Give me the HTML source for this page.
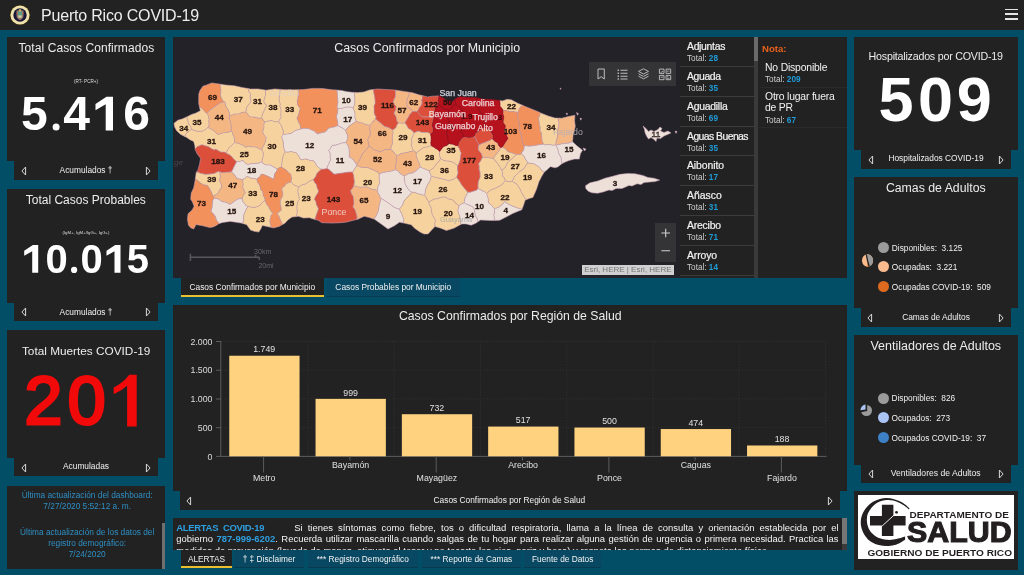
<!DOCTYPE html>
<html><head><meta charset="utf-8"><title>Puerto Rico COVID-19</title>
<style>
*{margin:0;padding:0;box-sizing:border-box}
html,body{width:1024px;height:575px;overflow:hidden}
body{background:#014e66;font-family:"Liberation Sans",sans-serif;color:#e8e8e8;position:relative}
.abs{position:absolute}
.p{position:absolute;background:#222222}
.t{height:20px;line-height:20px;text-align:center;white-space:nowrap}
.ttl{font-size:12px;color:#ececec}
.tab{font-size:8.35px;color:#f0f0f0}
.big{font-weight:bold;color:#fff}
.leg{position:absolute;font-size:8.3px;color:#f0f0f0;white-space:nowrap;height:12px;line-height:12px}
.dot{position:absolute;width:11px;height:11px;border-radius:50%}
.li{position:absolute;left:680px;width:74px;height:29.8px;border-bottom:1px solid #3c3c3c}
.li b{position:absolute;left:7px;top:4px;font-weight:normal;-webkit-text-stroke:.2px #f2f2f2;font-size:10.4px;line-height:12px;color:#f2f2f2;white-space:nowrap}
.li i{position:absolute;left:7px;top:16.1px;font-style:normal;font-size:8.2px;line-height:11px;color:#cfcfcf;white-space:nowrap}
.li i u,.nt u{text-decoration:none;color:#1f9bd8;font-weight:bold}
.nt{position:absolute;white-space:nowrap}
.bl{position:absolute;font-size:8.8px;color:#e0e0e0;white-space:nowrap;height:12px;line-height:12px;text-align:center;width:60px}
.upd{position:absolute;left:9.7px;width:155px;text-align:center;font-size:8.3px;line-height:11px;color:#2f8fc4;white-space:nowrap}
.btab{position:absolute;top:550px;height:18px;line-height:19px;font-size:8.3px;color:#f2f2f2;text-align:center;background:#094862;white-space:nowrap;border-bottom:1px solid #083a50}
</style></head><body><div id="root" style="position:absolute;left:0;top:0;width:1024px;height:575px;will-change:transform;overflow:hidden">

<div class="abs" style="left:0;top:0;width:1024px;height:30px;background:#222222"></div>
<svg class="abs" style="left:9px;top:4px" width="22" height="22" viewBox="0 0 22 22">
<circle cx="11" cy="11" r="10.3" fill="#3a2f12"/><circle cx="11" cy="11" r="9.6" fill="#f0e2ad"/><circle cx="11" cy="11" r="6.7" fill="#19173a"/>
<path d="M7.5,6.4h7v5.4q0,3-3.5,4.4q-3.5-1.4-3.500-4.400z" fill="#9a7466"/><path d="M8.700,7.3h4.6v4.2q0,2-2.300,3q-2.300-1-2.300-3z" fill="#5f9c86"/><rect x="9.300" y="11.4" width="3.4" height="2.300" fill="#d8c9a0"/><circle cx="11" cy="6.2" r="1.2" fill="#c9b06a"/><circle cx="8.200" cy="9.500" r=".8" fill="#c05a4a"/><circle cx="13.800" cy="9.500" r=".8" fill="#c05a4a"/>
</svg>
<div class="abs" id="hdr" style="left:41px;top:4.5px;height:22px;line-height:22px;font-size:16px;color:#ededed;white-space:nowrap;letter-spacing:-0.19px">Puerto Rico COVID-19</div>
<div class="abs" style="left:1005.3px;top:8.6px;width:12.6px;height:1.7px;background:#e4e4e4"></div>
<div class="abs" style="left:1005.3px;top:13.4px;width:12.6px;height:1.7px;background:#e4e4e4"></div>
<div class="abs" style="left:1005.3px;top:18.2px;width:12.6px;height:1.7px;background:#e4e4e4"></div>

<div class="p" style="left:7px;top:37px;width:158px;height:124px"></div><div class="p" style="left:14px;top:160px;width:144px;height:20px"></div>
<div class="p" style="left:7px;top:189px;width:158px;height:113.5px"></div><div class="p" style="left:14px;top:302px;width:144px;height:19px"></div>
<div class="p" style="left:7px;top:330px;width:158px;height:127.5px"></div><div class="p" style="left:14px;top:457px;width:144px;height:19px"></div>
<div class="p" style="left:7px;top:485.5px;width:158px;height:83.5px"></div>

<div class="abs t ttl" id="t1" style="left:6.4px;top:38.0px;width:160.0px;letter-spacing:.07px">Total Casos Confirmados</div>
<div class="abs t " id="s1" style="left:36.0px;top:71.6px;width:100.0px;font-size:4.6px;color:#ddd">(RT- PCR+)</div>
<div class="abs t tab" id="a1" style="left:36.0px;top:160.0px;width:100.0px;">Acumulados &#8224;</div>
<svg class="abs" style="left:20.0px;top:165.5px" width="8" height="10" viewBox="0 0 8 10"><path d="M5.600,1 L1.900,5 L5.600,9 Z" fill="none" stroke="#d8d8d8" stroke-width="1"/></svg><svg class="abs" style="left:144.0px;top:165.5px" width="8" height="10" viewBox="0 0 8 10"><path d="M2.400,1 L6.100,5 L2.400,9 Z" fill="none" stroke="#d8d8d8" stroke-width="1"/></svg>
<div class="abs t ttl" id="t2" style="left:5.8px;top:189.5px;width:160.0px;">Total Casos Probables</div>
<div class="abs t " id="s2" style="left:36.0px;top:223.0px;width:100.0px;font-size:4.3px;color:#ddd">(IgM+, IgM+/IgG+, IgG+)</div>
<div class="abs t tab" id="a2" style="left:36.0px;top:301.5px;width:100.0px;">Acumulados &#8224;</div>
<svg class="abs" style="left:20.0px;top:307.0px" width="8" height="10" viewBox="0 0 8 10"><path d="M5.600,1 L1.900,5 L5.600,9 Z" fill="none" stroke="#d8d8d8" stroke-width="1"/></svg><svg class="abs" style="left:144.0px;top:307.0px" width="8" height="10" viewBox="0 0 8 10"><path d="M2.400,1 L6.100,5 L2.400,9 Z" fill="none" stroke="#d8d8d8" stroke-width="1"/></svg>
<div class="abs t ttl" id="t3" style="left:6.2px;top:341.0px;width:160.0px;font-size:11.8px">Total Muertes COVID-19</div>
<div class="abs" id="n3" style="left:24.6px;top:358.3px;height:84px;line-height:84px;font-size:68px;color:#f20a0a;-webkit-text-stroke:3px #f20a0a;letter-spacing:5.4px;white-space:nowrap">20</div>
<svg class="abs" style="left:110px;top:370px" width="30" height="60" viewBox="110 370 30 60"><path d="M136.700,374.7H129.200Q123,383 113.700,387.400V394.200Q121.500,391 127.100,385.800V426.500H136.700Z" fill="#f20a0a"/></svg>
<div class="abs t tab" id="a3" style="left:36.0px;top:456.3px;width:100.0px;">Acumuladas</div>
<svg class="abs" style="left:20.0px;top:462.5px" width="8" height="10" viewBox="0 0 8 10"><path d="M5.600,1 L1.900,5 L5.600,9 Z" fill="none" stroke="#d8d8d8" stroke-width="1"/></svg><svg class="abs" style="left:144.0px;top:462.5px" width="8" height="10" viewBox="0 0 8 10"><path d="M2.400,1 L6.100,5 L2.400,9 Z" fill="none" stroke="#d8d8d8" stroke-width="1"/></svg>
<div class="upd" id="u1" style="top:489.5px">&Uacute;ltima actualizaci&oacute;n del dashboard:</div>
<div class="upd" style="top:500.5px">7/27/2020 5:52:12 a. m.</div>
<div class="upd" id="u3" style="top:526.5px">&Uacute;ltima actualizaci&oacute;n de los datos del</div>
<div class="upd" style="top:538px">registro demogr&aacute;fico:</div>
<div class="upd" style="top:549px">7/24/2020</div>
<div class="abs" style="left:161.5px;top:522.5px;width:3.5px;height:46.5px;background:#6f6f6f"></div>

<svg class="abs" style="left:0;top:0" width="1024" height="290" viewBox="0 0 1024 290" fill="#fff" font-family="Liberation Sans, sans-serif" font-weight="bold">
<g font-size="48"><text x="21.1" y="130.4">5</text><text x="63.3" y="130.4">4</text><text x="123.25" y="130.4">6</text></g><circle cx="56.1" cy="126.9" r="3.5"/><path d="M113.0,96.7L106.5,96.7L95.5,103.9L95.5,110.2L105.7,104.3L105.7,130.4L113.0,130.4Z"/>
<g font-size="40"><text x="45.4" y="272.8">0</text><text x="80.45" y="272.8">0</text><text x="126.85" y="272.8">5</text></g><circle cx="74.1" cy="269.9" r="3.1"/><path d="M38.2,245.1L32.9,245.1L24.2,250.8L24.2,255.8L32.2,251.2L32.2,272.8L38.2,272.8Z"/><path d="M120.5,245.1L115.2,245.1L106.5,250.8L106.5,255.8L114.5,251.2L114.5,272.8L120.5,272.8Z"/>
</svg>
<div class="abs" style="left:173px;top:37px;width:507px;height:240.5px;background:#232228;overflow:hidden"></div>
<div class="p" style="left:680px;top:37px;width:167px;height:240.5px"></div>
<svg class="abs" style="left:0;top:0" width="1024" height="300" viewBox="0 0 1024 300">
<g stroke="#c7a0b4" stroke-width="0.55" stroke-linejoin="round">
<path d="M220.5,84.2 217.0,83.7 211.8,82.9 206.8,84.9 202.9,86.2 200.0,90.4 198.8,93.9 198.7,98.8 198.7,101.0 198.8,104.1 199.5,107.1 201.7,108.3 203.6,110.1 204.8,112.1 206.8,113.6 210.2,109.9 215.0,106.4 219.8,103.1 224.6,101.8 222.8,100.4 221.9,98.7 221.1,96.8 220.5,95.0 220.9,92.1 221.0,89.0 220.5,86.6Z" fill="#f2915c"/>
<path d="M234.4,85.8 225.5,85.0 220.5,84.2 220.5,86.6 221.0,89.0 220.9,92.1 220.5,95.0 221.1,96.8 221.9,98.7 222.8,100.4 224.6,101.8 225.0,102.0 225.5,105.8 227.7,109.2 229.3,112.6 230.0,116.0 234.6,114.1 238.6,114.1 241.7,112.5 246.0,112.0 246.3,109.9 246.4,108.0 247.7,106.1 248.8,104.2 250.0,103.1 251.1,101.5 250.2,97.7 250.5,94.0 248.8,91.3 248.3,88.6 241.9,87.4 240.9,87.2Z" fill="#f6d39e"/>
<path d="M265.3,90.1 257.9,88.9 250.2,89.0 248.3,88.6 248.8,91.3 250.5,94.0 250.2,97.7 251.1,101.5 250.0,103.1 248.8,104.2 247.7,106.1 246.4,108.0 246.3,109.9 246.0,112.0 247.7,114.2 248.7,115.7 250.0,116.9 252.8,116.9 255.7,117.4 258.2,118.2 261.7,118.1 262.3,114.8 263.6,111.9 265.2,108.5 266.7,105.5 265.1,103.8 263.8,101.5 264.4,98.3 265.4,95.5 265.7,93.1Z" fill="#f6d39e"/>
<path d="M280.5,89.4 274.8,89.0 265.8,90.2 265.3,90.1 265.7,93.1 265.4,95.5 264.4,98.3 263.8,101.5 265.1,103.8 266.7,105.5 265.2,108.5 263.6,111.9 262.3,114.8 261.7,118.1 263.4,120.2 264.6,122.0 267.9,121.2 271.1,120.6 275.3,121.8 278.7,122.0 279.3,120.0 281.1,118.0 280.9,114.3 281.1,110.8 280.9,108.2 279.6,105.5 280.5,104.5 279.2,100.7 279.3,97.2 279.6,93.5Z" fill="#f6d39e"/>
<path d="M294.1,89.8 284.7,89.7 280.5,89.4 279.6,93.5 279.3,97.2 279.2,100.7 280.5,104.5 279.6,105.5 280.9,108.2 281.1,110.8 280.9,114.3 281.1,118.0 279.3,120.0 278.7,122.0 280.6,124.6 282.0,127.4 283.3,131.2 283.2,134.6 287.4,134.1 291.1,133.5 295.4,130.6 300.7,129.1 300.4,125.3 299.0,122.8 298.1,120.7 297.0,118.0 298.1,116.0 299.0,113.4 299.6,110.7 300.3,108.0 298.8,106.8 297.6,104.5 297.3,101.0 298.1,98.1 298.4,94.4 298.4,89.7Z" fill="#f6d39e"/>
<path d="M337.0,90.1 332.0,89.8 322.3,88.5 317.5,88.4 312.7,88.4 303.3,89.6 298.4,89.7 298.4,94.4 298.1,98.1 297.3,101.0 297.6,104.5 298.8,106.8 300.3,108.0 299.6,110.7 299.0,113.4 298.1,116.0 297.0,118.0 298.1,120.7 299.0,122.8 300.4,125.3 300.7,129.1 300.8,129.2 302.8,128.6 304.6,128.3 306.2,128.7 308.4,128.5 311.4,130.1 314.2,130.9 315.9,132.7 317.8,134.1 319.5,133.3 321.3,132.9 323.9,132.4 325.8,131.4 327.0,130.4 327.8,128.8 330.9,127.6 333.5,127.2 335.9,126.5 338.0,125.6 337.7,121.4 336.5,116.4 337.7,112.6 338.0,108.4 337.0,107.6 338.1,102.1 337.6,97.8 337.4,93.5Z" fill="#f2915c"/>
<path d="M352.9,107.7 354.0,106.5 354.9,103.0 354.9,99.0 354.6,95.8 354.9,92.4 352.2,92.3 347.2,91.7 341.3,90.4 337.0,90.1 337.4,93.5 337.6,97.8 338.1,102.1 337.0,107.6 338.0,108.4 341.7,108.6 345.4,107.3 349.3,107.0Z" fill="#ede0d9"/>
<path d="M356.3,121.3 354.9,117.1 355.1,113.4 354.2,110.4 352.9,107.7 349.3,107.0 345.4,107.3 341.7,108.6 338.0,108.4 337.7,112.6 336.5,116.4 337.7,121.4 338.0,125.6 339.8,126.9 341.7,127.5 343.7,129.1 345.6,130.4 347.6,127.7 349.7,125.7 353.0,123.5Z" fill="#ede0d9"/>
<path d="M373.5,89.5 369.6,89.9 363.8,92.0 357.8,92.6 354.9,92.4 354.6,95.8 354.9,99.0 354.9,103.0 354.0,106.5 352.9,107.7 354.2,110.4 355.1,113.4 354.9,117.1 356.3,121.3 359.1,122.7 362.2,122.9 366.0,124.7 370.0,125.3 371.3,123.7 372.7,121.7 374.2,120.6 375.5,119.1 376.1,116.7 374.8,114.8 374.2,112.3 374.3,109.2 374.0,106.5 374.5,105.1 375.3,103.4 375.0,99.5 374.5,95.6 373.8,92.7Z" fill="#f6d39e"/>
<path d="M395.6,90.1 386.2,89.5 377.7,89.0 373.5,89.5 373.8,92.7 374.5,95.6 375.0,99.5 375.3,103.4 374.5,105.1 374.0,106.5 374.3,109.2 374.2,112.3 374.8,114.8 376.1,116.7 375.5,119.1 380.5,123.0 384.3,126.4 388.2,127.6 392.6,130.0 394.6,129.0 396.2,127.3 397.1,124.8 398.5,123.1 396.8,120.4 396.6,117.7 395.4,115.3 394.1,113.4 394.8,111.6 395.8,110.2 396.1,108.2 396.4,106.5 394.4,104.3 393.4,102.0 394.3,99.1 395.4,97.1 395.6,93.3Z" fill="#db4f3b"/>
<path d="M396.4,106.5 396.1,108.2 395.8,110.2 394.8,111.6 394.1,113.4 395.4,115.3 396.6,117.7 396.8,120.4 398.5,123.1 400.0,123.1 401.6,123.3 403.3,123.2 404.8,122.9 406.4,120.4 408.3,117.3 410.0,114.2 412.8,111.5 411.8,110.0 410.6,108.9 408.8,107.6 407.1,106.5 406.9,103.1 407.2,99.0 408.7,95.7 409.6,92.3 404.1,91.4 396.1,90.2 395.6,90.1 395.6,93.3 395.4,97.1 394.3,99.1 393.4,102.0 394.4,104.3Z" fill="#f4b784"/>
<path d="M407.1,106.5 408.8,107.6 410.6,108.9 411.8,110.0 412.8,111.5 414.7,111.5 417.1,111.5 418.5,109.8 419.4,107.4 420.8,106.1 421.8,104.2 422.1,102.1 421.6,100.2 422.4,98.1 422.4,95.6 419.7,95.0 412.4,92.7 409.6,92.3 408.7,95.7 407.2,99.0 406.9,103.1Z" fill="#f4b784"/>
<path d="M438.1,104.5 438.5,102.2 438.2,100.5 438.6,98.2 438.9,95.9 432.7,96.2 427.5,96.9 422.4,95.6 422.4,98.1 421.6,100.2 422.1,102.1 421.8,104.2 420.8,106.1 419.4,107.4 418.5,109.8 417.1,111.5 418.3,112.8 419.3,114.2 421.1,116.2 424.0,117.0 426.8,116.9 429.9,116.8 433.9,118.0 434.0,117.9 434.4,115.1 433.9,113.0 435.1,110.0 435.5,107.6 437.1,105.9Z" fill="#db4f3b"/>
<path d="M404.8,122.9 406.7,125.5 408.3,128.6 411.3,130.0 414.1,133.1 416.0,132.1 418.6,131.2 421.0,132.3 424.2,132.5 427.7,132.6 430.6,134.1 432.0,133.1 433.0,132.0 433.2,128.4 432.0,125.0 433.0,121.7 433.9,118.0 429.9,116.8 426.8,116.9 424.0,117.0 421.1,116.2 419.3,114.2 418.3,112.8 417.1,111.5 414.7,111.5 412.8,111.5 410.0,114.2 408.3,117.3 406.4,120.4Z" fill="#db4f3b"/>
<path d="M474.2,136.1 475.6,138.4 476.5,141.2 477.9,142.9 479.1,144.9 482.3,143.4 485.1,142.4 489.4,140.8 492.7,139.0 493.1,136.9 493.1,135.1 491.4,132.6 490.3,130.9 489.6,129.4 488.0,129.0 486.5,128.4 484.3,127.1 482.4,127.9 480.4,129.6 478.4,131.2 475.6,132.7 474.8,134.6Z" fill="#db4f3b"/>
<path d="M503.0,110.3 506.8,110.7 509.8,111.7 513.4,111.6 517.8,112.5 518.8,110.6 519.1,108.9 520.7,106.8 522.6,105.3 517.7,103.2 511.2,99.7 507.1,99.3 502.6,100.9 499.8,100.5 499.8,102.1 500.0,103.8 500.0,106.6 501.7,108.1Z" fill="#f6d39e"/>
<path d="M505.3,125.4 505.1,128.1 503.9,130.3 504.6,132.1 506.0,133.7 506.8,136.2 507.9,138.3 506.7,140.3 505.1,142.6 503.6,145.0 502.3,147.1 505.9,149.3 507.8,151.8 512.3,153.1 516.2,154.6 518.9,154.6 521.4,153.9 522.2,152.0 523.5,150.4 524.1,148.4 524.3,145.7 523.0,143.9 522.4,141.6 521.9,139.7 521.9,137.1 522.0,137.0 520.9,134.3 519.7,130.8 519.9,128.0 519.3,124.4 519.7,123.5 518.8,121.1 517.9,118.3 517.9,115.8 517.8,112.5 513.4,111.6 509.8,111.7 506.8,110.7 503.0,110.3 502.8,113.6 503.8,117.0 503.3,119.9 503.0,122.3 504.1,124.1Z" fill="#f2915c"/>
<path d="M541.0,113.1 538.1,111.7 530.8,108.7 524.6,106.2 522.6,105.3 520.7,106.8 519.1,108.9 518.8,110.6 517.8,112.5 517.9,115.8 517.9,118.3 518.8,121.1 519.7,123.5 519.3,124.4 519.9,128.0 519.7,130.8 520.9,134.3 522.0,137.0 521.9,137.1 521.9,139.7 522.4,141.6 523.0,143.9 524.3,145.7 529.5,146.2 534.3,145.7 539.0,144.8 543.7,144.3 542.2,141.1 541.9,136.8 541.6,133.3 539.9,129.9 540.4,128.1 539.8,125.9 539.2,123.6 539.2,121.2 538.6,119.2 538.9,117.5 539.6,115.7 540.1,114.1Z" fill="#f2915c"/>
<path d="M558.0,129.4 558.8,126.4 559.1,123.3 558.7,121.0 558.0,118.1 555.0,118.1 548.4,116.1 542.6,113.8 541.0,113.1 540.1,114.1 539.6,115.7 538.9,117.5 538.6,119.2 539.2,121.2 539.2,123.6 539.8,125.9 540.4,128.1 539.9,129.9 541.6,133.3 541.9,136.8 542.2,141.1 543.7,144.3 544.6,145.0 546.9,144.7 549.6,144.6 552.7,145.3 555.8,145.0 556.2,141.3 557.2,138.1 557.8,133.6 557.6,129.8Z" fill="#f6d39e"/>
<path d="M575.3,126.5 574.6,120.8 574.9,115.2 568.2,116.6 561.7,118.2 558.0,118.1 558.7,121.0 559.1,123.3 558.8,126.4 558.0,129.4 557.6,129.8 557.8,133.6 557.2,138.1 556.2,141.3 555.8,145.0 556.0,145.2 559.4,144.4 563.5,143.6 568.2,143.2 572.5,141.7 573.2,134.3 574.2,130.7Z" fill="#f4b784"/>
<path d="M556.0,145.2 557.8,149.5 558.5,153.1 561.0,157.6 561.9,163.7 562.2,163.5 565.8,161.8 569.2,160.4 574.5,159.1 579.3,159.1 580.4,153.7 582.5,150.2 577.2,146.1 572.5,141.8 572.5,141.7 568.2,143.2 563.5,143.6 559.4,144.4Z" fill="#ede0d9"/>
<path d="M538.4,166.5 539.8,168.0 540.9,169.6 542.6,171.3 544.0,172.6 544.3,172.1 546.8,170.1 550.3,166.7 551.7,166.9 554.9,167.8 557.8,166.9 561.9,163.7 561.0,157.6 558.5,153.1 557.8,149.5 556.0,145.2 555.8,145.0 552.7,145.3 549.6,144.6 546.9,144.7 544.6,145.0 543.7,144.3 539.0,144.8 534.3,145.7 529.5,146.2 524.3,145.7 524.1,148.4 523.5,150.4 522.2,152.0 521.4,153.9 524.0,156.2 525.2,158.9 526.7,160.9 527.7,162.9 530.5,163.4 533.4,163.6 535.7,165.0Z" fill="#ede0d9"/>
<path d="M206.8,113.6 207.7,114.8 208.5,116.1 208.6,117.9 209.1,119.3 208.6,121.6 209.1,123.9 208.8,125.8 207.7,127.6 210.2,128.5 212.9,130.3 215.3,132.2 217.9,134.5 220.9,133.7 223.9,132.7 227.8,132.4 231.2,131.3 231.3,127.6 231.0,124.1 230.1,120.4 229.1,117.8 230.0,116.0 229.3,112.6 227.7,109.2 225.5,105.8 225.0,102.0 224.6,101.8 219.8,103.1 215.0,106.4 210.2,109.9Z" fill="#f4b784"/>
<path d="M209.1,119.3 208.6,117.9 208.5,116.1 207.7,114.8 206.8,113.6 204.8,112.1 203.6,110.1 201.7,108.3 199.5,107.1 200.3,110.7 195.5,113.2 191.6,114.4 186.7,116.9 187.7,120.6 188.3,123.4 190.6,126.6 191.6,129.4 194.0,130.4 196.9,131.2 199.3,131.4 202.5,131.2 203.9,130.5 205.5,129.6 207.7,127.6 208.8,125.8 209.1,123.9 208.6,121.6Z" fill="#f6d39e"/>
<path d="M191.6,129.4 190.6,126.6 188.3,123.4 187.7,120.6 186.7,116.9 186.6,116.9 182.7,118.8 177.8,120.2 174.0,123.3 174.5,126.8 176.6,130.7 180.7,134.4 184.6,136.4 186.2,133.6 188.1,132.0 190.0,130.3Z" fill="#f6d39e"/>
<path d="M230.0,116.0 229.1,117.8 230.1,120.4 231.0,124.1 231.3,127.6 231.2,131.3 232.2,132.1 232.7,134.4 234.2,137.0 234.4,139.9 234.7,142.5 238.3,143.5 241.4,144.6 243.8,145.9 245.9,147.4 247.2,146.8 248.7,146.2 252.0,147.0 255.3,147.1 259.0,148.6 261.9,150.3 262.5,147.5 264.2,144.7 265.8,141.0 266.2,137.5 264.5,135.5 263.7,134.1 262.8,132.5 263.2,129.8 264.0,127.3 264.0,124.2 264.6,122.0 263.4,120.2 261.7,118.1 258.2,118.2 255.7,117.4 252.8,116.9 250.0,116.9 248.7,115.7 247.7,114.2 246.0,112.0 241.7,112.5 238.6,114.1 234.6,114.1Z" fill="#f4b784"/>
<path d="M202.5,131.2 199.3,131.4 196.9,131.2 194.0,130.4 191.6,129.4 190.0,130.3 188.1,132.0 186.2,133.6 184.6,136.4 186.4,137.3 189.9,139.7 193.6,141.4 194.8,145.5 195.1,149.1 196.3,147.6 198.1,146.2 200.0,145.7 201.7,144.7 204.8,145.7 208.5,146.7 211.5,148.7 214.0,150.0 215.8,149.3 218.4,150.8 220.6,152.1 223.3,152.1 226.1,152.7 227.9,149.5 229.6,147.1 232.6,144.6 234.7,142.5 234.4,139.9 234.2,137.0 232.7,134.4 232.2,132.1 231.2,131.3 227.8,132.4 223.9,132.7 220.9,133.7 217.9,134.5 215.3,132.2 212.9,130.3 210.2,128.5 207.7,127.6 205.5,129.6 203.9,130.5Z" fill="#f6d39e"/>
<path d="M262.8,132.5 263.7,134.1 264.5,135.5 266.2,137.5 265.8,141.0 264.2,144.7 262.5,147.5 261.9,150.3 262.6,151.7 263.4,153.1 263.2,155.1 262.9,157.4 262.3,159.4 261.8,161.8 262.8,163.5 266.1,165.0 270.1,165.0 274.0,167.2 277.3,169.1 279.3,167.8 281.3,167.1 282.0,163.2 282.3,159.8 283.4,155.3 285.3,151.9 285.1,151.7 284.0,148.7 283.4,145.0 283.4,141.7 281.9,137.5 282.1,136.1 283.2,134.6 283.3,131.2 282.0,127.4 280.6,124.6 278.7,122.0 275.3,121.8 271.1,120.6 267.9,121.2 264.6,122.0 264.0,124.2 264.0,127.3 263.2,129.8Z" fill="#f6d39e"/>
<path d="M325.8,131.4 323.9,132.4 321.3,132.9 319.5,133.3 317.8,134.1 315.9,132.7 314.2,130.9 311.4,130.1 308.4,128.5 306.2,128.7 304.6,128.3 302.8,128.6 300.8,129.2 300.7,129.1 295.4,130.6 291.1,133.5 287.4,134.1 283.2,134.6 282.1,136.1 281.9,137.5 283.4,141.7 283.4,145.0 284.0,148.7 285.1,151.7 285.3,151.9 288.1,152.2 290.6,151.5 293.0,152.1 296.1,152.7 297.6,154.6 299.0,156.7 299.9,158.4 301.2,160.0 304.2,159.1 307.6,159.4 310.0,160.5 313.4,160.8 315.3,163.0 316.4,165.5 318.5,167.5 321.3,169.4 323.8,169.1 325.2,168.9 326.8,168.4 327.8,165.8 328.9,163.9 329.6,161.6 330.9,159.8 330.1,157.0 330.4,154.9 329.9,152.4 328.6,150.3 330.8,148.3 331.2,146.7 332.2,145.4 335.3,145.2 338.5,144.3 342.0,143.0 345.9,142.6 346.8,140.8 347.8,138.9 347.8,136.9 347.6,134.9 346.4,132.8 345.6,130.4 343.7,129.1 341.7,127.5 339.8,126.9 338.0,125.6 335.9,126.5 333.5,127.2 330.9,127.6 327.8,128.8 327.0,130.4Z" fill="#ede0d9"/>
<path d="M370.0,135.5 370.5,133.0 369.8,129.9 369.9,127.6 370.0,125.3 366.0,124.7 362.2,122.9 359.1,122.7 356.3,121.3 353.0,123.5 349.7,125.7 347.6,127.7 345.6,130.4 346.4,132.8 347.6,134.9 347.8,136.9 347.8,138.9 346.8,140.8 345.9,142.6 348.5,146.5 349.1,150.1 349.4,153.1 349.0,157.0 351.4,158.3 353.3,159.8 355.0,162.6 356.7,164.7 359.9,159.6 362.6,153.6 365.8,150.3 369.2,145.9 368.5,144.4 368.3,142.6 367.8,140.1 368.5,137.5Z" fill="#f4b784"/>
<path d="M226.4,153.5 228.9,154.5 231.7,156.6 233.9,159.4 236.6,161.8 238.3,161.6 240.1,161.6 241.6,160.8 243.3,160.7 244.1,162.1 245.4,163.3 247.9,164.6 251.3,163.8 255.9,163.4 258.6,163.2 261.8,161.8 262.3,159.4 262.9,157.4 263.2,155.1 263.4,153.1 262.6,151.7 261.9,150.3 259.0,148.6 255.3,147.1 252.0,147.0 248.7,146.2 247.2,146.8 245.9,147.4 243.8,145.9 241.4,144.6 238.3,143.5 234.7,142.5 232.6,144.6 229.6,147.1 227.9,149.5 226.1,152.7Z" fill="#f6d39e"/>
<path d="M195.2,149.6 197.0,153.6 200.6,158.4 199.8,162.8 199.5,164.5 197.9,170.2 196.7,171.9 200.8,173.5 205.5,174.4 209.2,174.2 214.1,173.7 216.7,172.3 219.0,171.6 219.2,171.6 219.7,172.0 222.4,172.8 225.0,172.6 228.4,172.3 231.5,172.0 233.0,169.2 234.0,167.0 235.3,164.5 236.6,161.8 233.9,159.4 231.7,156.6 228.9,154.5 226.4,153.5 226.1,152.7 223.3,152.1 220.6,152.1 218.4,150.8 215.8,149.3 214.0,150.0 211.5,148.7 208.5,146.7 204.8,145.7 201.7,144.7 200.0,145.7 198.1,146.2 196.3,147.6 195.1,149.1Z" fill="#db4f3b"/>
<path d="M236.6,161.8 235.3,164.5 234.0,167.0 233.0,169.2 231.5,172.0 233.1,173.6 234.8,175.5 236.0,176.7 237.1,178.8 239.9,179.0 242.5,179.7 244.0,178.8 245.3,178.2 247.1,176.3 249.4,177.4 251.6,178.4 254.5,178.6 256.8,179.1 258.1,178.1 259.8,176.8 261.2,174.2 263.7,174.6 267.0,175.9 270.5,177.6 273.6,179.5 274.3,176.1 274.9,173.4 276.6,171.4 277.3,169.1 274.0,167.2 270.1,165.0 266.1,165.0 262.8,163.5 261.8,161.8 258.6,163.2 255.9,163.4 251.3,163.8 247.9,164.6 245.4,163.3 244.1,162.1 243.3,160.7 241.6,160.8 240.1,161.6 238.3,161.6Z" fill="#ede0d9"/>
<path d="M291.0,174.6 291.0,176.4 291.6,178.0 291.1,180.1 291.0,182.1 292.6,183.8 294.1,185.1 296.4,186.0 298.7,187.1 302.3,184.8 305.6,184.0 309.0,181.5 312.4,179.7 313.3,179.8 315.7,176.7 316.7,173.9 319.1,171.2 321.3,169.4 318.5,167.5 316.4,165.5 315.3,163.0 313.4,160.8 310.0,160.5 307.6,159.4 304.2,159.1 301.2,160.0 299.9,158.4 299.0,156.7 297.6,154.6 296.1,152.7 293.0,152.1 290.6,151.5 288.1,152.2 285.3,151.9 283.4,155.3 282.3,159.8 282.0,163.2 281.3,167.1 283.6,168.5 286.6,170.3 288.8,172.9Z" fill="#f6d39e"/>
<path d="M345.9,142.6 342.0,143.0 338.5,144.3 335.3,145.2 332.2,145.4 331.2,146.7 330.8,148.3 328.6,150.3 329.9,152.4 330.4,154.9 330.1,157.0 330.9,159.8 329.6,161.6 328.9,163.9 327.8,165.8 326.8,168.4 328.8,169.5 330.1,170.7 331.9,172.3 334.0,174.3 339.2,173.5 344.3,172.8 349.1,172.1 352.7,172.1 353.6,170.5 354.8,168.6 355.9,167.3 356.8,165.3 356.7,164.7 355.0,162.6 353.3,159.8 351.4,158.3 349.0,157.0 349.4,153.1 349.1,150.1 348.5,146.5Z" fill="#ede0d9"/>
<path d="M196.7,171.9 196.2,172.6 195.3,178.8 198.3,180.9 200.5,183.2 203.8,184.9 207.4,185.4 209.3,188.3 210.7,191.0 211.9,193.8 213.3,196.3 213.6,196.4 216.0,194.6 218.3,192.9 219.4,190.3 221.9,187.5 221.2,183.7 219.5,180.6 220.5,176.4 219.7,172.0 219.2,171.6 219.0,171.6 216.7,172.3 214.1,173.7 209.2,174.2 205.5,174.4 200.8,173.5Z" fill="#f6d39e"/>
<path d="M219.7,172.0 220.5,176.4 219.5,180.6 221.2,183.7 221.9,187.5 219.4,190.3 218.3,192.9 216.0,194.6 213.6,196.4 214.3,198.2 218.2,199.1 221.9,201.6 226.7,202.6 230.0,204.5 232.2,203.0 234.2,201.5 236.4,200.0 238.3,199.0 239.9,198.8 242.1,198.8 242.6,197.5 243.2,195.8 244.0,194.4 245.4,193.1 244.1,190.2 242.8,187.3 243.3,184.0 242.5,179.7 239.9,179.0 237.1,178.8 236.0,176.7 234.8,175.5 233.1,173.6 231.5,172.0 228.4,172.3 225.0,172.6 222.4,172.8Z" fill="#f4b784"/>
<path d="M242.5,179.7 243.3,184.0 242.8,187.3 244.1,190.2 245.4,193.1 244.0,194.4 243.2,195.8 242.6,197.5 242.1,198.8 242.8,201.4 244.4,203.3 245.9,205.4 247.9,206.5 249.9,207.0 252.1,207.3 255.1,207.4 257.6,206.5 260.1,205.2 261.8,203.3 263.2,201.6 265.0,200.7 265.2,200.3 264.5,197.4 263.0,195.1 263.0,192.7 262.1,190.6 260.6,189.6 260.4,187.1 259.0,184.0 257.5,182.0 256.8,179.1 254.5,178.6 251.6,178.4 249.4,177.4 247.1,176.3 245.3,178.2 244.0,178.8Z" fill="#f6d39e"/>
<path d="M277.3,169.1 276.6,171.4 274.9,173.4 274.3,176.1 273.6,179.5 270.5,177.6 267.0,175.9 263.7,174.6 261.2,174.2 259.8,176.8 258.1,178.1 256.8,179.1 257.5,182.0 259.0,184.0 260.4,187.1 260.6,189.6 262.1,190.6 263.0,192.7 263.0,195.1 264.5,197.4 265.2,200.3 265.0,200.7 266.6,204.2 268.7,207.0 270.2,210.3 272.8,213.6 271.4,214.8 270.8,215.9 270.1,218.9 269.6,221.4 270.4,224.3 270.8,227.3 273.4,227.9 279.2,226.4 282.4,224.6 281.6,221.9 280.3,219.4 279.1,216.3 277.1,213.4 279.2,211.9 280.2,211.1 281.5,209.9 281.1,206.8 280.2,203.3 280.4,200.9 281.5,197.9 282.0,197.4 282.8,195.1 283.0,193.1 282.1,190.8 282.0,187.9 284.3,186.4 286.0,184.1 288.0,183.0 291.0,182.1 291.1,180.1 291.6,178.0 291.0,176.4 291.0,174.6 288.8,172.9 286.6,170.3 283.6,168.5 281.3,167.1 279.3,167.8Z" fill="#f2915c"/>
<path d="M298.7,187.1 296.4,186.0 294.1,185.1 292.6,183.8 291.0,182.1 288.0,183.0 286.0,184.1 284.3,186.4 282.0,187.9 282.1,190.8 283.0,193.1 282.8,195.1 282.0,197.4 281.5,197.9 280.4,200.9 280.2,203.3 281.1,206.8 281.5,209.9 280.2,211.1 279.2,211.9 277.1,213.4 279.1,216.3 280.3,219.4 281.6,221.9 282.4,224.6 284.9,223.2 287.8,220.0 292.0,217.1 297.1,216.5 296.6,215.4 297.4,211.6 296.8,207.6 297.4,204.3 298.1,200.9 299.5,199.5 299.0,197.0 298.2,194.1 297.9,190.3Z" fill="#f6d39e"/>
<path d="M318.6,191.0 317.1,187.5 316.5,184.5 314.8,182.5 313.3,179.8 312.4,179.7 309.0,181.5 305.6,184.0 302.3,184.8 298.7,187.1 297.9,190.3 298.2,194.1 299.0,197.0 299.5,199.5 298.1,200.9 297.4,204.3 296.8,207.6 297.4,211.6 296.6,215.4 297.1,216.5 298.4,216.3 303.5,218.0 309.3,217.7 314.9,219.4 315.7,216.9 316.4,214.7 317.7,211.6 318.5,208.6 317.5,206.6 316.4,204.2 315.9,201.5 314.6,199.5 315.1,197.4 316.2,195.5 317.7,193.6Z" fill="#f6d39e"/>
<path d="M318.6,191.0 317.7,193.6 316.2,195.5 315.1,197.4 314.6,199.5 315.9,201.5 316.4,204.2 317.5,206.6 318.5,208.6 317.7,211.6 316.4,214.7 315.7,216.9 314.9,219.4 315.0,219.5 318.2,220.3 321.8,222.7 331.7,223.1 336.0,222.9 341.1,222.7 347.2,221.9 352.8,220.4 357.1,219.4 357.1,215.9 356.0,212.3 354.9,209.2 353.0,206.9 353.6,205.3 354.1,203.7 353.9,200.5 353.4,196.5 351.6,193.8 350.7,190.5 351.7,189.2 352.9,188.1 353.9,185.6 354.6,181.9 354.2,179.0 353.8,175.4 352.7,172.1 349.1,172.1 344.3,172.8 339.2,173.5 334.0,174.3 331.9,172.3 330.1,170.7 328.8,169.5 326.8,168.4 325.2,168.9 323.8,169.1 321.3,169.4 319.1,171.2 316.7,173.9 315.7,176.7 313.3,179.8 314.8,182.5 316.5,184.5 317.1,187.5Z" fill="#db4f3b"/>
<path d="M193.7,187.8 191.2,193.2 190.8,197.7 190.6,199.0 192.5,202.0 194.1,206.4 192.7,208.9 191.9,210.3 188.1,213.7 187.4,219.1 188.4,225.0 190.3,227.5 193.6,229.0 194.7,227.2 196.0,224.6 199.6,225.2 201.9,225.6 209.8,227.6 213.0,227.0 216.2,225.5 219.2,223.4 219.4,223.4 216.6,220.2 215.4,216.3 213.5,213.9 211.1,211.2 212.2,207.6 212.4,204.2 212.9,200.6 214.3,198.2 213.6,196.4 213.3,196.3 211.9,193.8 210.7,191.0 209.3,188.3 207.4,185.4 203.8,184.9 200.5,183.2 198.3,180.9 195.3,178.8 195.1,180.4Z" fill="#f2915c"/>
<path d="M214.3,198.2 212.9,200.6 212.4,204.2 212.2,207.6 211.1,211.2 213.5,213.9 215.4,216.3 216.6,220.2 219.4,223.4 222.8,222.4 230.0,221.4 230.5,221.4 238.0,222.6 242.1,223.2 242.6,223.4 243.8,219.9 243.7,215.2 245.7,210.5 247.9,206.5 245.9,205.4 244.4,203.3 242.8,201.4 242.1,198.8 239.9,198.8 238.3,199.0 236.4,200.0 234.2,201.5 232.2,203.0 230.0,204.5 226.7,202.6 221.9,201.6 218.2,199.1Z" fill="#ede0d9"/>
<path d="M257.6,206.5 255.1,207.4 252.1,207.3 249.9,207.0 247.9,206.5 245.7,210.5 243.7,215.2 243.8,219.9 242.6,223.4 246.7,224.7 248.3,227.0 250.5,230.1 253.5,231.1 254.0,231.3 258.8,232.1 260.9,228.8 262.4,225.4 266.8,226.4 270.8,227.3 270.4,224.3 269.6,221.4 270.1,218.9 270.8,215.9 271.4,214.8 272.8,213.6 270.2,210.3 268.7,207.0 266.6,204.2 265.0,200.7 263.2,201.6 261.8,203.3 260.1,205.2Z" fill="#f6d39e"/>
<path d="M353.9,185.6 352.9,188.1 351.7,189.2 350.7,190.5 351.6,193.8 353.4,196.5 353.9,200.5 354.1,203.7 353.6,205.3 353.0,206.9 354.9,209.2 356.0,212.3 357.1,215.9 357.1,219.4 357.8,219.3 364.2,216.3 368.5,217.3 374.0,219.1 376.6,215.3 378.4,210.7 379.5,204.2 381.2,198.4 380.4,197.6 379.7,195.4 378.4,193.8 377.9,192.0 377.5,190.3 371.7,189.1 366.6,186.8 360.0,187.2Z" fill="#f4b784"/>
<path d="M379.3,174.0 378.3,172.7 377.2,171.8 372.4,169.6 367.6,167.6 361.8,167.5 356.8,165.3 355.9,167.3 354.8,168.6 353.6,170.5 352.7,172.1 353.8,175.4 354.2,179.0 354.6,181.9 353.9,185.6 360.0,187.2 366.6,186.8 371.7,189.1 377.5,190.3 378.1,186.2 379.8,183.0 379.2,178.3Z" fill="#f6d39e"/>
<path d="M392.6,130.0 388.2,127.6 384.3,126.4 380.5,123.0 375.5,119.1 374.2,120.6 372.7,121.7 371.3,123.7 370.0,125.3 369.9,127.6 369.8,129.9 370.5,133.0 370.0,135.5 368.5,137.5 367.8,140.1 368.3,142.6 368.5,144.4 369.2,145.9 371.3,147.5 373.7,149.7 377.4,150.8 380.0,152.0 382.4,150.7 384.9,149.6 387.5,149.8 390.7,149.0 391.7,145.7 392.7,143.2 392.5,140.4 392.3,137.7 392.2,137.5 392.6,135.1 393.1,133.3 393.1,131.7Z" fill="#f4b784"/>
<path d="M392.6,130.0 393.1,131.7 393.1,133.3 392.6,135.1 392.2,137.5 392.3,137.7 392.5,140.4 392.7,143.2 391.7,145.7 390.7,149.0 392.3,150.9 394.3,152.8 395.3,154.3 397.0,155.7 401.3,153.5 405.6,152.8 409.9,151.7 413.6,150.8 412.5,148.4 411.4,145.8 412.0,142.2 411.2,139.2 412.5,137.4 412.9,135.9 414.1,133.1 411.3,130.0 408.3,128.6 406.7,125.5 404.8,122.9 403.3,123.2 401.6,123.3 400.0,123.1 398.5,123.1 397.1,124.8 396.2,127.3 394.6,129.0Z" fill="#f6d39e"/>
<path d="M414.1,133.1 412.9,135.9 412.5,137.4 411.2,139.2 412.0,142.2 411.4,145.8 412.5,148.4 413.6,150.8 414.9,151.6 416.3,152.8 419.7,150.5 422.8,148.1 427.5,146.8 431.3,145.8 430.8,143.1 431.2,140.1 431.2,137.2 430.6,134.1 427.7,132.6 424.2,132.5 421.0,132.3 418.6,131.2 416.0,132.1Z" fill="#f6d39e"/>
<path d="M377.2,171.8 378.3,172.7 379.3,174.0 383.0,172.5 388.3,171.7 391.8,171.0 395.7,169.8 395.3,166.1 396.5,162.1 396.1,159.2 397.0,155.7 395.3,154.3 394.3,152.8 392.3,150.9 390.7,149.0 387.5,149.8 384.9,149.6 382.4,150.7 380.0,152.0 377.4,150.8 373.7,149.7 371.3,147.5 369.2,145.9 365.8,150.3 362.6,153.6 359.9,159.6 356.7,164.7 356.8,165.3 361.8,167.5 367.6,167.6 372.4,169.6Z" fill="#f4b784"/>
<path d="M420.2,167.0 419.8,163.9 418.1,160.8 416.3,156.4 416.3,152.8 414.9,151.6 413.6,150.8 409.9,151.7 405.6,152.8 401.3,153.5 397.0,155.7 396.1,159.2 396.5,162.1 395.3,166.1 395.7,169.8 398.6,171.6 400.2,173.8 402.2,174.9 404.5,176.1 409.1,173.4 413.1,172.9 417.2,170.0Z" fill="#f4b784"/>
<path d="M439.6,151.5 437.8,149.6 435.8,148.5 433.4,146.8 431.3,145.8 427.5,146.8 422.8,148.1 419.7,150.5 416.3,152.8 416.3,156.4 418.1,160.8 419.8,163.9 420.2,167.0 422.3,168.1 424.2,168.8 426.4,169.7 429.1,171.0 433.2,168.3 436.1,164.3 439.0,161.6 440.6,158.6 440.2,157.0 439.5,155.5 439.6,153.5Z" fill="#f6d39e"/>
<path d="M457.7,165.7 457.9,165.5 459.2,163.0 460.2,160.0 460.6,156.0 461.2,152.7 460.2,151.1 459.6,148.7 458.5,147.4 457.9,145.7 455.7,145.5 453.3,144.3 451.4,144.1 449.0,143.6 446.9,145.4 443.7,146.4 441.6,148.8 439.6,151.5 439.6,153.5 439.5,155.5 440.2,157.0 440.6,158.6 444.3,160.8 449.3,161.3 453.5,162.6Z" fill="#f6d39e"/>
<path d="M429.1,171.0 430.1,173.6 431.3,176.2 435.2,177.4 439.5,178.4 443.8,179.2 449.2,181.1 451.0,180.0 453.4,179.4 455.1,178.2 456.6,177.5 457.3,175.5 458.1,173.0 457.8,170.8 457.6,168.5 457.7,165.7 453.5,162.6 449.3,161.3 444.3,160.8 440.6,158.6 439.0,161.6 436.1,164.3 433.2,168.3Z" fill="#f6d39e"/>
<path d="M474.2,136.1 472.0,137.0 469.4,137.5 466.7,137.0 464.1,136.7 461.8,138.1 460.4,140.0 458.8,142.2 457.9,145.7 458.5,147.4 459.6,148.7 460.2,151.1 461.2,152.7 460.6,156.0 460.2,160.0 459.2,163.0 457.9,165.5 457.7,165.7 457.6,168.5 457.8,170.8 458.1,173.0 457.3,175.5 456.6,177.5 459.2,180.9 461.4,184.8 464.2,188.2 467.8,192.4 470.6,192.2 473.5,191.3 476.0,190.6 478.2,188.7 478.1,185.4 478.4,181.9 479.5,179.1 480.5,176.0 480.1,175.5 480.2,172.6 479.3,169.2 479.4,166.4 478.8,163.9 479.6,162.2 480.8,161.1 481.6,159.2 482.7,157.4 482.1,155.4 481.4,153.2 479.8,151.7 478.6,150.0 478.3,147.6 479.1,144.9 477.9,142.9 476.5,141.2 475.6,138.4Z" fill="#db4f3b"/>
<path d="M492.7,139.0 489.4,140.8 485.1,142.4 482.3,143.4 479.1,144.9 478.3,147.6 478.6,150.0 479.8,151.7 481.4,153.2 482.1,155.4 482.7,157.4 484.9,157.9 487.4,157.4 489.9,158.0 493.2,158.4 495.7,155.0 497.8,152.4 499.5,150.1 500.5,147.5 498.6,145.3 497.9,143.0 494.9,141.2Z" fill="#f4b784"/>
<path d="M493.2,158.4 496.1,161.7 498.1,164.2 500.1,167.4 501.8,170.6 505.5,167.2 507.7,162.3 512.6,158.3 516.2,154.6 512.3,153.1 507.8,151.8 505.9,149.3 502.3,147.1 500.5,147.5 499.5,150.1 497.8,152.4 495.7,155.0Z" fill="#f6d39e"/>
<path d="M502.4,176.0 504.2,177.7 504.6,179.2 505.3,180.6 506.0,181.0 507.3,181.4 508.9,181.9 510.5,181.5 512.3,181.4 514.4,176.7 518.5,172.5 524.3,168.3 527.7,162.9 526.7,160.9 525.2,158.9 524.0,156.2 521.4,153.9 518.9,154.6 516.2,154.6 512.6,158.3 507.7,162.3 505.5,167.2 501.8,170.6 502.6,172.9 502.5,174.5Z" fill="#f6d39e"/>
<path d="M541.3,177.0 544.0,172.6 542.6,171.3 540.9,169.6 539.8,168.0 538.4,166.5 535.7,165.0 533.4,163.6 530.5,163.4 527.7,162.9 524.3,168.3 518.5,172.5 514.4,176.7 512.3,181.4 513.7,182.6 515.2,183.0 517.1,184.6 519.8,188.7 521.5,192.6 524.0,196.8 526.1,199.8 529.2,198.5 532.9,197.4 536.5,189.3 539.0,181.6 540.8,178.2Z" fill="#f6d39e"/>
<path d="M501.8,170.6 500.1,167.4 498.1,164.2 496.1,161.7 493.2,158.4 489.9,158.0 487.4,157.4 484.9,157.9 482.7,157.4 481.6,159.2 480.8,161.1 479.6,162.2 478.8,163.9 479.4,166.4 479.3,169.2 480.2,172.6 480.1,175.5 480.5,176.0 479.5,179.1 478.4,181.9 478.1,185.4 478.2,188.7 480.9,190.0 483.0,191.2 484.9,191.9 486.6,193.6 490.8,190.0 496.7,187.8 501.7,184.9 505.3,180.6 504.6,179.2 504.2,177.7 502.4,176.0 502.5,174.5 502.6,172.9Z" fill="#f6d39e"/>
<path d="M404.5,176.1 402.2,174.9 400.2,173.8 398.6,171.6 395.7,169.8 391.8,171.0 388.3,171.7 383.0,172.5 379.3,174.0 379.2,178.3 379.8,183.0 378.1,186.2 377.5,190.3 377.9,192.0 378.4,193.8 379.7,195.4 380.4,197.6 381.2,198.4 381.4,198.5 386.0,201.6 390.2,204.3 394.2,207.4 399.4,209.3 402.8,204.7 404.3,200.5 408.6,196.0 412.2,192.3 409.8,190.9 407.9,188.4 406.7,186.4 405.1,183.9 404.9,181.4 404.3,179.5 404.3,177.8Z" fill="#ede0d9"/>
<path d="M429.1,171.0 426.4,169.7 424.2,168.8 422.3,168.1 420.2,167.0 417.2,170.0 413.1,172.9 409.1,173.4 404.5,176.1 404.3,177.8 404.3,179.5 404.9,181.4 405.1,183.9 406.7,186.4 407.9,188.4 409.8,190.9 412.2,192.3 414.8,192.4 417.8,193.8 421.0,194.5 424.8,195.5 425.6,189.4 427.7,184.5 430.0,181.0 431.3,176.2 430.1,173.6Z" fill="#ede0d9"/>
<path d="M424.8,195.5 426.0,197.1 426.4,198.5 427.5,200.0 428.9,201.9 433.8,199.3 438.0,198.6 441.2,197.3 445.2,197.0 448.4,199.0 452.9,200.0 455.8,203.5 459.1,205.7 461.1,204.0 462.6,203.5 464.2,202.7 464.6,200.2 464.9,198.0 466.7,195.0 467.8,192.4 464.2,188.2 461.4,184.8 459.2,180.9 456.6,177.5 455.1,178.2 453.4,179.4 451.0,180.0 449.2,181.1 443.8,179.2 439.5,178.4 435.2,177.4 431.3,176.2 430.0,181.0 427.7,184.5 425.6,189.4Z" fill="#f6d39e"/>
<path d="M494.4,208.6 497.1,208.0 499.5,206.7 502.1,204.7 504.7,201.7 508.1,204.0 512.1,206.0 517.2,207.9 522.0,209.2 523.7,204.8 525.1,200.3 526.1,199.8 524.0,196.8 521.5,192.6 519.8,188.7 517.1,184.6 515.2,183.0 513.7,182.6 512.3,181.4 510.5,181.5 508.9,181.9 507.3,181.4 506.0,181.0 505.3,180.6 501.7,184.9 496.7,187.8 490.8,190.0 486.6,193.6 487.2,195.8 488.1,198.4 488.3,200.9 488.6,203.1 490.2,204.2 492.0,205.8 493.2,207.4Z" fill="#f6d39e"/>
<path d="M486.6,193.6 484.9,191.9 483.0,191.2 480.9,190.0 478.2,188.7 476.0,190.6 473.5,191.3 470.6,192.2 467.8,192.4 466.7,195.0 464.9,198.0 464.6,200.2 464.2,202.7 466.7,204.3 469.6,205.4 472.0,206.5 473.7,208.1 474.7,211.5 475.2,215.5 477.1,218.6 477.9,221.8 480.5,220.0 489.6,220.4 494.9,220.4 494.3,217.4 493.9,214.8 494.6,212.1 494.4,208.6 493.2,207.4 492.0,205.8 490.2,204.2 488.6,203.1 488.3,200.9 488.1,198.4 487.2,195.8Z" fill="#ede0d9"/>
<path d="M494.4,208.6 494.6,212.1 493.9,214.8 494.3,217.4 494.9,220.4 499.7,220.3 506.0,217.1 512.7,213.5 517.5,211.5 521.8,209.8 522.0,209.2 517.2,207.9 512.1,206.0 508.1,204.0 504.7,201.7 502.1,204.7 499.5,206.7 497.1,208.0Z" fill="#ede0d9"/>
<path d="M459.1,205.7 458.6,207.6 457.8,209.7 458.4,213.3 459.7,215.9 460.0,219.7 460.8,224.4 461.8,223.9 466.1,223.9 471.1,225.2 475.7,223.3 477.9,221.8 477.1,218.6 475.2,215.5 474.7,211.5 473.7,208.1 472.0,206.5 469.6,205.4 466.7,204.3 464.2,202.7 462.6,203.5 461.1,204.0Z" fill="#ede0d9"/>
<path d="M428.9,201.9 428.8,203.6 430.8,207.2 431.5,210.9 432.2,215.1 435.0,219.2 435.2,221.4 434.7,223.3 434.9,225.4 434.5,227.0 434.9,226.5 440.7,228.2 446.4,230.5 453.8,228.3 460.8,224.4 460.0,219.7 459.7,215.9 458.4,213.3 457.8,209.7 458.6,207.6 459.1,205.7 455.8,203.5 452.9,200.0 448.4,199.0 445.2,197.0 441.2,197.3 438.0,198.6 433.8,199.3Z" fill="#f6d39e"/>
<path d="M412.2,192.3 408.6,196.0 404.3,200.5 402.8,204.7 399.4,209.3 400.4,211.5 401.8,213.7 402.3,216.2 403.9,219.0 403.4,221.3 403.6,223.1 404.7,223.3 411.1,224.7 414.9,228.4 420.3,232.2 424.1,234.0 428.1,233.9 431.0,230.7 434.5,227.0 434.9,225.4 434.7,223.3 435.2,221.4 435.0,219.2 432.2,215.1 431.5,210.9 430.8,207.2 428.8,203.6 428.9,201.9 427.5,200.0 426.4,198.5 426.0,197.1 424.8,195.5 421.0,194.5 417.8,193.8 414.8,192.4Z" fill="#f6d39e"/>
<path d="M381.2,198.4 379.5,204.2 378.4,210.7 376.6,215.3 374.0,219.1 374.8,219.4 381.1,223.9 388.0,229.1 394.4,225.8 399.5,222.2 403.6,223.1 403.4,221.3 403.9,219.0 402.3,216.2 401.8,213.7 400.4,211.5 399.4,209.3 394.2,207.4 390.2,204.3 386.0,201.6 381.4,198.5Z" fill="#ede0d9"/>
<g stroke="#8d1020"><path d="M438.1,104.5 440.7,106.2 442.9,108.0 446.0,109.8 448.7,110.1 451.0,108.3 452.6,106.8 453.8,105.2 455.8,103.8 455.4,101.2 455.6,98.6 455.1,98.9 452.5,101.9 450.3,100.2 447.2,101.0 445.2,99.0 442.2,97.6 439.3,95.8 438.9,95.9 438.6,98.2 438.2,100.5 438.5,102.2Z" fill="#b5121d"/>
<path d="M438.1,104.5 437.1,105.9 435.5,107.6 435.1,110.0 433.9,113.0 434.4,115.1 434.0,117.9 433.9,118.0 433.0,121.7 432.0,125.0 433.2,128.4 433.0,132.0 432.0,133.1 430.6,134.1 431.2,137.2 431.2,140.1 430.8,143.1 431.3,145.8 433.4,146.8 435.8,148.5 437.8,149.6 439.6,151.5 441.6,148.8 443.7,146.4 446.9,145.4 449.0,143.6 448.1,140.7 447.9,137.9 447.4,134.9 446.1,132.9 447.9,130.7 447.8,128.3 448.1,125.3 448.6,122.7 449.2,120.4 448.0,119.0 448.3,117.0 448.0,115.1 448.9,112.4 448.7,110.1 446.0,109.8 442.9,108.0 440.7,106.2Z" fill="#b5121d"/>
<path d="M462.9,110.9 461.8,108.8 459.7,106.8 457.2,105.5 455.8,103.8 453.8,105.2 452.6,106.8 451.0,108.3 448.7,110.1 448.9,112.4 448.0,115.1 448.3,117.0 448.0,119.0 449.2,120.4 448.6,122.7 448.1,125.3 447.8,128.3 447.9,130.7 446.1,132.9 447.4,134.9 447.9,137.9 448.1,140.7 449.0,143.6 451.4,144.1 453.3,144.3 455.7,145.5 457.9,145.7 458.8,142.2 460.4,140.0 461.8,138.1 464.1,136.7 463.0,134.1 461.1,132.1 461.5,129.6 462.8,126.4 462.2,123.5 462.2,120.0 461.8,119.6 462.0,117.9 462.5,115.9 462.6,113.0Z" fill="#b5121d"/>
<path d="M461.8,119.6 462.2,120.0 462.2,123.5 462.8,126.4 461.5,129.6 461.1,132.1 463.0,134.1 464.1,136.7 466.7,137.0 469.4,137.5 472.0,137.0 474.2,136.1 474.8,134.6 475.6,132.7 478.4,131.2 480.4,129.6 482.4,127.9 484.3,127.1 484.3,124.5 484.5,121.5 484.6,117.9 483.5,115.1 481.9,113.8 480.3,113.1 480.0,111.0 479.2,109.1 477.6,107.5 476.4,105.3 476.7,103.6 476.3,101.6 476.6,99.8 477.4,97.9 476.3,97.7 471.4,97.6 465.7,97.3 460.7,96.8 458.0,97.4 455.6,98.6 455.4,101.2 455.8,103.8 457.2,105.5 459.7,106.8 461.8,108.8 462.9,110.9 462.6,113.0 462.5,115.9 462.0,117.9Z" fill="#b5121d"/>
<path d="M491.7,99.6 484.4,99.2 477.4,97.9 476.6,99.8 476.3,101.6 476.7,103.6 476.4,105.3 477.6,107.5 479.2,109.1 480.0,111.0 480.3,113.1 481.9,113.8 483.5,115.1 484.6,117.9 484.5,121.5 484.3,124.5 484.3,127.1 486.5,128.4 488.0,129.0 489.6,129.4 490.3,130.9 491.4,132.6 493.1,135.1 493.1,136.9 492.7,139.0 494.9,141.2 497.9,143.0 498.6,145.3 500.5,147.5 502.3,147.1 503.6,145.0 505.1,142.6 506.7,140.3 507.9,138.3 506.8,136.2 506.0,133.7 504.6,132.1 503.9,130.3 505.1,128.1 505.3,125.4 504.1,124.1 503.0,122.3 503.3,119.9 503.8,117.0 502.8,113.6 503.0,110.3 501.7,108.1 500.0,106.6 500.0,103.8 499.8,102.1 499.8,100.5 496.7,100.1Z" fill="#b5121d"/></g>
<polygon points="585.5,185.7 590.0,182.8 597.7,181.0 605.0,178.2 612.7,176.3 620.0,174.3 627.7,173.5 635.0,173.8 642.8,175.4 648.0,177.5 654.0,178.2 659.7,180.1 655.0,181.6 650.3,181.9 644.0,182.6 641.0,184.6 637.1,183.8 632.0,186.0 629.0,185.4 622.1,188.5 616.0,188.6 612.0,190.6 609.0,190.0 603.0,192.0 597.7,193.2 592.0,192.8 588.3,191.3 585.8,188.5" fill="#ede0d9"/>
<polygon points="643.0,126.0 646.0,128.5 648.5,131.5 651.0,130.0 654.0,131.5 658.0,129.5 660.0,127.0 662.0,128.5 660.5,131.0 664.0,132.5 668.0,131.0 671.0,133.0 667.5,134.5 664.0,136.0 660.5,138.5 657.0,138.0 656.0,141.5 653.5,139.0 651.0,137.5 648.5,139.0 646.5,136.0 645.0,132.5 644.5,129.5" fill="#ede0d9"/>
<path d="M576.5,112.5l2,1.2l-1,1.6zM580,118l1.6,.6l-.8,1.6zM583,148l3,1l-1.5,2zM566,113l1.5,.5l-.5,1.5zM675,131l2,.6l-1,1.8zM560,88l1,.4l-.4,1z" fill="#e9c9d6"/>
</g>
<g font-family="Liberation Sans, sans-serif" font-size="8.1" font-weight="bold" fill="#3a0a0c" text-anchor="middle"><text x="467" y="118.600">1.9</text><text x="500" y="120.200">3</text><text x="452" y="129">1</text></g>
<g font-family="Liberation Sans, sans-serif" font-size="8.8" fill="#f3e4e6" text-anchor="middle" opacity="0.9" stroke="#f3e4e6" stroke-width=".25">
<text x="284.5" y="95.6" fill="#d9d2d6" stroke="none" opacity=".7">Arecibo</text><text x="458.1" y="96" fill="#dfe3ee" stroke="#dfe3ee">San Juan</text><text x="478.1" y="105.6">Carolina</text><text x="447.3" y="116.6">Bayam&#243;n</text><text x="485.2" y="120.4">Trujillo</text><text x="485.2" y="130.9">Alto</text><text x="455.2" y="129.1">Guaynabo</text><text x="334" y="214.7" fill="#f3d9d2" stroke="none">Ponce</text><text x="567.9" y="134.8" fill="#b4afb6" stroke="none" opacity="1">Fajardo</text><text x="456" y="221.6" font-size="7.4" fill="#a2a2a2" stroke="none" opacity=".9">Guayama</text>
<text x="174" y="165" font-size="8" fill="#4c4c50" font-style="italic" text-anchor="start" stroke="none">ge</text>
</g>
<g font-family="Liberation Sans, sans-serif" font-size="8.1" font-weight="bold" fill="#26140f" stroke="#26140f" stroke-width=".3" text-anchor="middle">
<text x="212.4" y="99.7">69</text>
<text x="238.3" y="101.6">37</text>
<text x="257.5" y="104.4">31</text>
<text x="272.9" y="109.6">38</text>
<text x="289.8" y="111.5">33</text>
<text x="317.2" y="112.8">71</text>
<text x="346.3" y="103.4">10</text>
<text x="347.7" y="121.7">17</text>
<text x="362.5" y="110.0">39</text>
<text x="387.5" y="107.8">116</text>
<text x="402.1" y="112.5">57</text>
<text x="413.8" y="104.9">62</text>
<text x="431.1" y="107.2">122</text>
<text x="422.6" y="125.0">143</text>
<text x="447.6" y="105.3">50</text>
<text x="511.5" y="109.1">22</text>
<text x="510.5" y="133.5">103</text>
<text x="527.6" y="128.6">78</text>
<text x="551.0" y="129.9">34</text>
<text x="569.1" y="152.3">15</text>
<text x="541.6" y="157.5">16</text>
<text x="219.3" y="120.4">44</text>
<text x="197.0" y="125.4">35</text>
<text x="183.8" y="131.2">34</text>
<text x="247.5" y="133.5">49</text>
<text x="211.5" y="143.5">31</text>
<text x="272.1" y="148.5">30</text>
<text x="309.7" y="147.6">12</text>
<text x="358.0" y="143.5">54</text>
<text x="244.3" y="156.9">25</text>
<text x="218.0" y="163.7">183</text>
<text x="251.8" y="173.3">18</text>
<text x="300.5" y="171.3">28</text>
<text x="340.1" y="163.2">11</text>
<text x="211.8" y="182.3">39</text>
<text x="232.8" y="188.3">47</text>
<text x="252.8" y="195.7">33</text>
<text x="273.4" y="197.0">78</text>
<text x="289.8" y="206.4">25</text>
<text x="306.3" y="201.2">23</text>
<text x="333.6" y="202.1">143</text>
<text x="201.5" y="206.4">73</text>
<text x="231.7" y="214.0">15</text>
<text x="260.3" y="221.5">23</text>
<text x="364.0" y="202.9">65</text>
<text x="367.8" y="184.5">20</text>
<text x="382.2" y="135.9">66</text>
<text x="402.9" y="139.5">29</text>
<text x="422.2" y="142.9">31</text>
<text x="377.5" y="162.2">52</text>
<text x="407.6" y="165.8">43</text>
<text x="429.8" y="159.8">28</text>
<text x="451.0" y="152.9">35</text>
<text x="444.4" y="173.0">36</text>
<text x="469.2" y="163.0">177</text>
<text x="490.8" y="149.5">43</text>
<text x="504.9" y="159.8">19</text>
<text x="515.3" y="169.0">27</text>
<text x="527.5" y="179.6">19</text>
<text x="488.6" y="178.9">33</text>
<text x="397.4" y="192.7">12</text>
<text x="417.5" y="184.1">17</text>
<text x="442.9" y="191.8">26</text>
<text x="504.9" y="199.5">22</text>
<text x="479.5" y="208.9">10</text>
<text x="505.8" y="213.0">4</text>
<text x="469.6" y="217.7">14</text>
<text x="448.2" y="215.5">20</text>
<text x="417.5" y="214.0">19</text>
<text x="388.0" y="218.7">9</text>
<text x="615" y="186.2">3</text>
<text x="655.9" y="136.7" fill="#777">11</text>
</g>
<path d="M190.4,253.7v7.2M190,257.3H259.5M255.6,255v2.3M259.2,257.3v2.6" fill="none" stroke="#58585c" stroke-width="1.5"/>
<g font-family="Liberation Sans, sans-serif" font-size="7" fill="#66666a"><text x="254.1" y="253.9">30km</text><text x="258.4" y="267.5">20mi</text></g>
</svg>
<div class="abs t ttl" id="mt" style="left:277.2px;top:38.4px;width:300.0px;font-size:12.4px">Casos Confirmados por Municipio</div>
<div class="abs" style="left:588.5px;top:62.3px;width:87.3px;height:23.5px;background:#343436"></div>
<svg class="abs" style="left:588.5px;top:62.3px" width="88" height="24" viewBox="0 0 88 24" fill="none" stroke="#bdbdbd" stroke-width="1">
<path d="M9,7h6.3v10l-3.15,-2.3l-3.15,2.3z"/>
<path d="M31.5,8.2h7M31.5,11.2h7M31.5,14.2h7M31.5,17h7" stroke-width="1.1"/><path d="M28.6,8.2h1.3M28.6,11.2h1.3M28.6,14.2h1.3M28.6,17h1.3" stroke-width="1.4"/>
<path d="M54.5,6.8l5,2.6l-5,2.6l-5,-2.6zM49.5,11.8l5,2.6l5,-2.6M49.5,14.2l5,2.6l5,-2.6" stroke-width=".95"/>
<path d="M70.400,7.100h4.600v4.300h-4.600zM77.100,7.100h4.600v4.300h-4.600zM70.400,13.400h4.600v4.300h-4.600zM77.100,13.400h4.600v4.300h-4.600z" stroke-width=".95"/><path d="M71.5,10.2h1.400l1.100-1.300M78,9.800l1.100-1.200l1.300,1.300M71.500,15.200h2.600M78,16.300h2.500M78,14.800h1.300" stroke-width=".8"/>
</svg>
<div class="abs" style="left:654.6px;top:222.5px;width:21.3px;height:39.1px;background:#343436"></div>
<svg class="abs" style="left:654.6px;top:222.5px" width="22" height="40" viewBox="0 0 22 40" stroke="#d0d0d0" stroke-width="1.1"><path d="M6.4,10h8.6M10.7,5.7v8.6M6.4,27.8h8.6"/></svg>
<div class="abs" style="left:582px;top:265.1px;width:91.7px;height:10px;background:#d0d0d0;color:#767676;font-size:8px;line-height:10.4px;text-align:center;white-space:nowrap;overflow:hidden" id="attr">Esri, HERE | Esri, HERE</div>

<div class="li" style="top:37.2px"><b id="ln0" style="letter-spacing:-0.30px">Adjuntas</b><i>Total: <u>28</u></i></div>
<div class="li" style="top:67.0px"><b id="ln1" style="letter-spacing:-0.36px">Aguada</b><i>Total: <u>35</u></i></div>
<div class="li" style="top:96.8px"><b id="ln2" style="letter-spacing:-0.25px">Aguadilla</b><i>Total: <u>69</u></i></div>
<div class="li" style="top:126.6px"><b id="ln3" style="letter-spacing:-0.55px">Aguas Buenas</b><i>Total: <u>35</u></i></div>
<div class="li" style="top:156.4px"><b id="ln4" style="letter-spacing:-0.06px">Aibonito</b><i>Total: <u>17</u></i></div>
<div class="li" style="top:186.2px"><b id="ln5" style="letter-spacing:0.00px">A&ntilde;asco</b><i>Total: <u>31</u></i></div>
<div class="li" style="top:216.0px"><b id="ln6" style="letter-spacing:-0.20px">Arecibo</b><i>Total: <u>71</u></i></div>
<div class="li" style="top:245.8px"><b id="ln7" style="letter-spacing:-0.10px">Arroyo</b><i>Total: <u>14</u></i></div>
<div class="abs" style="left:754px;top:37px;width:4px;height:240.5px;background:#3a3a3a"></div><div class="abs" style="left:754px;top:37px;width:4px;height:24px;background:#6a6a6a"></div>
<div class="nt" style="left:762px;top:42.6px;font-size:9.6px;line-height:12px;font-weight:bold;color:#e8621c">Nota:</div>
<div class="nt" id="nd" style="left:765px;top:61.6px;font-size:10.4px;line-height:12px;color:#f2f2f2;letter-spacing:-.18px">No Disponible</div>
<div class="nt" style="left:765px;top:73.5px;font-size:8.2px;line-height:11px;color:#cfcfcf">Total: <u>209</u></div>
<div class="abs" style="left:759px;top:86.5px;width:88px;height:1px;background:#2a2a2a"></div>
<div class="nt" style="left:765px;top:92.3px;font-size:10.4px;line-height:10.8px;color:#f2f2f2;letter-spacing:-.2px" id="ol">Otro lugar fuera<br>de PR</div>
<div class="nt" style="left:765px;top:114.5px;font-size:8.2px;line-height:11px;color:#cfcfcf">Total: <u>67</u></div>
<div class="abs" style="left:759px;top:127px;width:88px;height:1px;background:#2a2a2a"></div>

<div class="abs" style="left:180.7px;top:277.5px;width:143px;height:19.5px;background:#222222;border-bottom:2px solid #e8bf2f"></div>
<div class="abs" style="left:326.5px;top:277.5px;width:133.5px;height:19px;background:#094862;border-bottom:1px solid #083a50"></div>

<div class="abs t tab" id="mtab1" style="left:180.8px;top:276.8px;width:143.0px;font-size:8.4px">Casos Confirmados por Municipio</div>
<div class="abs t tab" id="mtab2" style="left:326.8px;top:276.8px;width:133.0px;font-size:8.4px">Casos Probables por Municipio</div>
<div class="p" style="left:173px;top:305px;width:673.5px;height:185.5px"></div><div class="p" style="left:179.5px;top:490px;width:660px;height:19.5px"></div>
<div class="abs t ttl" id="ct" style="left:310.3px;top:305.6px;width:400.0px;font-size:12.25px">Casos Confirmados por Regi&oacute;n de Salud</div>
<svg class="abs" style="left:173px;top:305px" width="674" height="186" viewBox="173 305 674 186">
<g stroke="#3a3a3a" stroke-width="0.6" stroke-dasharray="1.2,1.6" fill="none">
<path d="M221,341.5H826"/>
<path d="M221,370.2H826"/>
<path d="M221,399.0H826"/>
<path d="M221,427.7H826"/>
<path d="M307.8,341.5V456"/>
<path d="M394.1,341.5V456"/>
<path d="M480.4,341.5V456"/>
<path d="M566.7,341.5V456"/>
<path d="M653.0,341.5V456"/>
<path d="M739.3,341.5V456"/>
<path d="M825.6,341.5V456"/>
</g>
<path d="M220.8,341V456.6M216,341.5h5M216,370.2h5M216,399h5M216,427.7h5M216,456.4h610.5" stroke="#5c5c5c" stroke-width="1" fill="none"/>
<rect x="229.25" y="355.73" width="70.3" height="100.57" fill="#ffd280"/>
<path d="M263.6,456.5v16" stroke="#5c5c5c" stroke-width="1"/>
<rect x="315.55" y="398.86" width="70.3" height="57.44" fill="#ffd280"/>
<path d="M349.9,456.5v4" stroke="#5c5c5c" stroke-width="1"/>
<rect x="401.85" y="414.21" width="70.3" height="42.09" fill="#ffd280"/>
<path d="M436.2,456.5v16" stroke="#5c5c5c" stroke-width="1"/>
<rect x="488.15" y="426.57" width="70.3" height="29.73" fill="#ffd280"/>
<path d="M522.5,456.5v4" stroke="#5c5c5c" stroke-width="1"/>
<rect x="574.45" y="427.55" width="70.3" height="28.75" fill="#ffd280"/>
<path d="M608.9,456.5v16" stroke="#5c5c5c" stroke-width="1"/>
<rect x="660.75" y="429.05" width="70.3" height="27.25" fill="#ffd280"/>
<path d="M695.1,456.5v4" stroke="#5c5c5c" stroke-width="1"/>
<rect x="747.05" y="445.49" width="70.3" height="10.81" fill="#ffd280"/>
<path d="M781.4,456.5v16" stroke="#5c5c5c" stroke-width="1"/>
</svg>
<div class="bl" style="left:152.5px;top:335.8px;text-align:right;color:#dcdcdc" id="y0">2.000</div>
<div class="bl" style="left:152.5px;top:364.4px;text-align:right;color:#dcdcdc" >1.500</div>
<div class="bl" style="left:152.5px;top:393.1px;text-align:right;color:#dcdcdc" >1.000</div>
<div class="bl" style="left:152.5px;top:421.8px;text-align:right;color:#dcdcdc" >500</div>
<div class="bl" style="left:152.5px;top:450.8px;text-align:right;color:#dcdcdc" >0</div>
<div class="bl" style="left:234.2px;top:343.4px">1.749</div>
<div class="bl" style="left:234.2px;top:472.3px">Metro</div>
<div class="bl" style="left:320.6px;top:386.6px">999</div>
<div class="bl" style="left:320.6px;top:459.0px">Bayam&oacute;n</div>
<div class="bl" style="left:406.9px;top:401.9px">732</div>
<div class="bl" style="left:406.9px;top:472.3px">Mayag&uuml;ez</div>
<div class="bl" style="left:493.1px;top:414.3px">517</div>
<div class="bl" style="left:493.1px;top:459.0px">Arecibo</div>
<div class="bl" style="left:579.5px;top:415.2px">500</div>
<div class="bl" style="left:579.5px;top:472.3px">Ponce</div>
<div class="bl" style="left:665.8px;top:416.7px">474</div>
<div class="bl" style="left:665.8px;top:459.0px">Caguas</div>
<div class="bl" style="left:752.0px;top:433.2px">188</div>
<div class="bl" style="left:752.0px;top:472.3px">Fajardo</div>
<div class="abs t tab" id="ctab" style="left:359.4px;top:489.6px;width:300.0px;">Casos Confirmados por Regi&oacute;n de Salud</div>
<svg class="abs" style="left:185.0px;top:496.0px" width="8" height="10" viewBox="0 0 8 10"><path d="M5.600,1 L1.900,5 L5.600,9 Z" fill="none" stroke="#d8d8d8" stroke-width="1"/></svg><svg class="abs" style="left:825.5px;top:496.0px" width="8" height="10" viewBox="0 0 8 10"><path d="M2.400,1 L6.100,5 L2.400,9 Z" fill="none" stroke="#d8d8d8" stroke-width="1"/></svg>
<div class="p" style="left:173px;top:518px;width:673.5px;height:32px;overflow:hidden">
<div id="al" style="position:absolute;left:3.3px;top:4.2px;width:662.3px;font-size:9.46px;line-height:11.25px;color:#f4f4f4;text-align:justify">
<div id="al1" style="text-align-last:justify"><b style="color:#2f9fe0;letter-spacing:-.3px">ALERTAS COVID-19</b><span style="display:inline-block;width:25px"></span> Si tienes s&iacute;ntomas como fiebre, tos o dificultad respiratoria, llama a la l&iacute;nea de consulta y orientaci&oacute;n establecida por el</div>
<div id="al2" style="text-align-last:justify">gobierno <b style="color:#2f9fe0">787-999-6202</b>. Recuerda utilizar mascarilla cuando salgas de tu hogar para realizar alguna gesti&oacute;n de urgencia o primera necesidad. Practica las</div>
<div style="white-space:nowrap;text-align:left"><span id="al3">medidas de prevenci&oacute;n (lavado de manos, etiqueta al toser y no tocarte los ojos, nariz y boca) y respeta las normas de distanciamiento f&iacute;sico.</span></div></div>
<div style="position:absolute;left:669px;top:0;width:4.5px;height:32px;background:#3a3a3a"></div><div style="position:absolute;left:669px;top:0;width:4.5px;height:26px;background:#757575"></div>
</div>
<div class="abs" style="left:841.8px;top:519px;width:4.6px;height:30.6px;background:#6e6872;display:none"></div>

<div class="btab" style="left:181.2px;width:50.5px;background:#222222;border-bottom:2px solid #e8bf2f">ALERTAS</div>
<div class="btab" style="left:234.2px;width:69.6px">&#8224; &#8225; Disclaimer</div>
<div class="btab" style="left:307.5px;width:110.5px">*** Registro Demogr&aacute;fico</div>
<div class="btab" style="left:422px;width:98.8px">*** Reporte de Camas</div>
<div class="btab" style="left:524.2px;width:77px">Fuente de Datos</div>

<div class="p" style="left:854px;top:37px;width:164px;height:113px"></div><div class="p" style="left:861px;top:149px;width:150px;height:19.5px"></div>
<div class="p" style="left:854px;top:176.5px;width:164px;height:131px"></div><div class="p" style="left:861px;top:307px;width:150px;height:20px"></div>
<div class="p" style="left:854px;top:335px;width:164px;height:129.5px"></div><div class="p" style="left:861px;top:464px;width:150px;height:19px"></div>

<div class="abs t ttl" id="r1" style="left:853.7px;top:46.0px;width:164.0px;font-size:10.7px;letter-spacing:-.22px">Hospitalizados por COVID-19</div>
<svg class="abs" style="left:854px;top:60px" width="164" height="80" viewBox="854 60 164 80" fill="#fff" font-family="Liberation Sans, sans-serif" font-weight="bold" font-size="63"><text x="878.5" y="120.8">5</text><text x="917.9" y="120.8">0</text><text x="956.7" y="120.8">9</text></svg>
<div class="abs t tab" id="rt1" style="left:876.0px;top:148.4px;width:120.0px;">Hospitalizados COVID-19</div>
<svg class="abs" style="left:866.8px;top:154.5px" width="8" height="10" viewBox="0 0 8 10"><path d="M5.600,1 L1.900,5 L5.600,9 Z" fill="none" stroke="#d8d8d8" stroke-width="1"/></svg><svg class="abs" style="left:996.7px;top:154.5px" width="8" height="10" viewBox="0 0 8 10"><path d="M2.400,1 L6.100,5 L2.400,9 Z" fill="none" stroke="#d8d8d8" stroke-width="1"/></svg>
<div class="abs t ttl" id="r2" style="left:853.8px;top:178.1px;width:164.0px;font-size:12.3px">Camas de Adultos</div>
<div class="dot" style="left:878.3px;top:242.0px;background:#9b9b9b"></div><div class="leg" style="left:891.8px;top:241.5px">Disponibles: &nbsp;3.125</div>
<div class="dot" style="left:878.3px;top:261.1px;background:#f9bb8d"></div><div class="leg" style="left:891.8px;top:260.6px">Ocupadas: &nbsp;3.221</div>
<div class="dot" style="left:878.3px;top:281.4px;background:#dd6a1f"></div><div class="leg" style="left:891.8px;top:280.9px">Ocupadas COVID-19: &nbsp;509</div>
<svg class="abs" style="left:859.5px;top:252.7px" width="15" height="15" viewBox="-7.5 -7.5 15 15"><g transform="scale(.92,1.04)"><circle r="6" fill="#f9bb8d"/><path d="M0,0L-1.3,-5.86A6,6 0 0 1 1.9,5.69Z" fill="#9b9b9b"/><path d="M0,0L1.9,5.69A6,6 0 0 1 -0.2,6Z" fill="#dd6a1f"/><path d="M-1.3,-5.86L0,0L1.9,5.69" stroke="#222" stroke-width="1.4" fill="none"/></g></svg>
<div class="abs t tab" id="rt2" style="left:876.0px;top:306.9px;width:120.0px;">Camas de Adultos</div>
<svg class="abs" style="left:866.4px;top:313.0px" width="8" height="10" viewBox="0 0 8 10"><path d="M5.600,1 L1.900,5 L5.600,9 Z" fill="none" stroke="#d8d8d8" stroke-width="1"/></svg><svg class="abs" style="left:996.6px;top:313.0px" width="8" height="10" viewBox="0 0 8 10"><path d="M2.400,1 L6.100,5 L2.400,9 Z" fill="none" stroke="#d8d8d8" stroke-width="1"/></svg>
<div class="abs t ttl" id="r3" style="left:853.8px;top:335.9px;width:164.0px;font-size:12.5px">Ventiladores de Adultos</div>
<div class="dot" style="left:878px;top:392.7px;background:#9b9b9b"></div><div class="leg" style="left:891.5px;top:392.2px">Disponibles: &nbsp;826</div>
<div class="dot" style="left:878px;top:412.3px;background:#a9c4f5"></div><div class="leg" style="left:891.5px;top:411.8px">Ocupados: &nbsp;273</div>
<div class="dot" style="left:878px;top:432.2px;background:#3d80c6"></div><div class="leg" style="left:891.5px;top:431.7px">Ocupados COVID-19: &nbsp;37</div>
<svg class="abs" style="left:859px;top:403.3px" width="15" height="15" viewBox="-7.5 -7.5 15 15"><circle r="5.5" fill="#9b9b9b"/><path d="M0,0L0,-6A6,6 0 0 0 -5.9,1Z" fill="#222"/><path d="M-.9,-.9L-.9,-5.9A5.6,5.6 0 0 0 -6,-.2Z" fill="#a9c4f5"/><path d="M0,-5.6V0L-5.5,1" stroke="#222" stroke-width="1.3" fill="none"/></svg>
<div class="abs t tab" id="rt3" style="left:875.7px;top:463.2px;width:120.0px;font-size:8.6px">Ventiladores de Adultos</div>
<svg class="abs" style="left:866.5px;top:469.3px" width="8" height="10" viewBox="0 0 8 10"><path d="M5.600,1 L1.900,5 L5.600,9 Z" fill="none" stroke="#d8d8d8" stroke-width="1"/></svg><svg class="abs" style="left:996.5px;top:469.3px" width="8" height="10" viewBox="0 0 8 10"><path d="M2.400,1 L6.100,5 L2.400,9 Z" fill="none" stroke="#d8d8d8" stroke-width="1"/></svg>
<div class="p" style="left:854px;top:491px;width:163.5px;height:78.5px"></div>
<div class="abs" style="left:857.6px;top:495px;width:156.8px;height:64px;background:#fff"></div>
<svg class="abs" style="left:857.6px;top:495px" width="157" height="64" viewBox="857.6 495 157 64">
<path d="M909.1,508.6C908.4,507.9 906.4,505.8 904.7,504.5C903.0,503.2 900.8,501.9 898.8,501.0C896.8,500.1 895.1,499.4 893.0,498.9C890.9,498.4 888.5,498.1 886.2,498.1C883.9,498.1 881.7,498.3 879.4,498.9C877.1,499.5 874.7,500.5 872.6,501.8C870.5,503.1 868.4,504.8 866.7,506.7C865.0,508.6 863.3,511.1 862.3,513.5C861.2,515.9 860.5,518.7 860.4,521.3C860.2,523.9 860.7,526.7 861.4,529.1C862.1,531.5 863.3,533.8 864.8,535.9C866.3,538.0 868.3,540.2 870.6,541.7C872.9,543.2 875.8,544.4 878.4,545.1C881.0,545.8 883.6,546.1 886.2,546.1C888.8,546.1 891.7,545.7 894.0,545.1C896.3,544.5 898.0,543.6 899.8,542.7C901.6,541.8 903.9,540.3 904.7,539.8L904.7,536.4C903.7,536.7 900.8,537.8 898.8,538.3C896.8,538.8 895.1,539.4 893.0,539.6C890.9,539.9 888.5,540.0 886.2,539.8C883.9,539.6 881.5,539.1 879.4,538.3C877.3,537.5 875.2,536.3 873.5,534.9C871.8,533.5 870.2,532.0 869.1,530.0C868.0,528.0 867.1,525.5 866.7,523.2C866.3,520.9 866.3,518.5 866.7,516.4C867.1,514.3 868.0,512.5 869.1,510.6C870.2,508.7 871.8,506.7 873.5,505.2C875.2,503.7 877.3,502.5 879.4,501.6C881.5,500.7 883.9,500.2 886.2,500.0C888.5,499.8 890.9,500.1 893.0,500.6C895.1,501.1 896.8,501.9 898.8,502.8C900.8,503.7 903.1,505.1 904.7,506.2C906.3,507.3 908.0,508.9 908.6,509.4Z" fill="#231f20"/>
<path d="M881.5,504.7h11.5v11.2h12.2v9.7h-12.2v10.3h-11.5v-10.3h-11.9v-9.7h11.9z" fill="#231f20"/>
<path d="M881.7,526L895,513.9" stroke="#fff" stroke-width="0.9"/>
<circle cx="896.1" cy="512.3" r="2.5" fill="#fff"/><circle cx="896.1" cy="512.3" r="1.4" fill="#231f20"/>
<g font-family="Liberation Sans, sans-serif" font-weight="bold" fill="#231f20">
<text id="lg1" x="909.2" y="518" font-size="9.6" textLength="99.4" lengthAdjust="spacingAndGlyphs">DEPARTAMENTO DE</text>
<text id="lg2" x="906.6" y="541.7" font-size="28.9" textLength="104.6" lengthAdjust="spacingAndGlyphs" stroke="#231f20" stroke-width="1.1">SALUD</text>
<text id="lg3" x="867" y="556" font-size="9" textLength="144.6" lengthAdjust="spacingAndGlyphs">GOBIERNO DE PUERTO RICO</text>
</g></svg>

</div></body></html>
